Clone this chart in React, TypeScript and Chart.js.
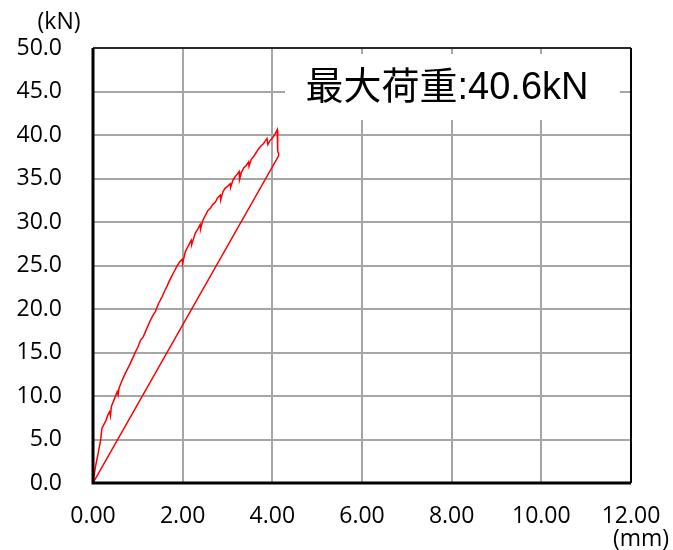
import React, { useEffect, useRef } from "react";
import { Chart, registerables } from "chart.js";

Chart.register(...registerables);

// Loading branch (displacement mm, load kN)
const loadX = [
  0, 0.056, 0.115, 0.17, 0.2, 0.25, 0.29, 0.33, 0.37, 0.39, 0.41, 0.48, 0.54, 0.56, 0.58,
  0.65, 0.72, 0.76, 0.8, 0.88, 0.95, 1.0, 1.06, 1.12, 1.17, 1.22, 1.28, 1.34, 1.39, 1.46,
  1.54, 1.6, 1.65, 1.7, 1.76, 1.82, 1.87, 1.93, 1.99, 2.0, 2.06, 2.12, 2.19, 2.2, 2.28,
  2.34, 2.39, 2.4, 2.45, 2.51, 2.56, 2.62, 2.67, 2.73, 2.78, 2.84, 2.85, 2.9, 2.95, 3.0,
  3.06, 3.07, 3.12, 3.17, 3.22, 3.26, 3.27, 3.31, 3.36, 3.42, 3.47, 3.48, 3.53, 3.58,
  3.63, 3.69, 3.74, 3.8, 3.84, 3.88, 3.9, 3.94, 3.99, 4.02, 4.06, 4.11, 4.12, 4.14,
];
const loadY = [
  0, 1.9, 3.4, 4.9, 6.3, 6.8, 7.2, 7.8, 8.2, 7.7, 8.8, 9.7, 10.5, 10.1, 10.9,
  11.8, 12.6, 13.0, 13.4, 14.3, 15.1, 15.6, 16.4, 16.8, 17.4, 18.0, 18.7, 19.3, 19.7, 20.6,
  21.4, 22.1, 22.6, 23.2, 23.8, 24.4, 24.9, 25.4, 25.7, 25.3, 26.6, 27.2, 27.9, 27.4, 28.7,
  29.2, 29.7, 29.2, 30.2, 30.8, 31.3, 31.6, 32.0, 32.3, 32.8, 33.1, 32.6, 33.5, 33.9, 34.1,
  34.4, 34.0, 34.8, 35.2, 35.5, 35.8, 34.9, 35.7, 36.2, 36.5, 36.9, 36.4, 37.2, 37.5,
  37.9, 38.4, 38.7, 39.0, 39.3, 39.6, 38.9, 39.3, 39.6, 39.8, 40.1, 40.6, 38.1, 37.9,
];
// Unloading branch
const unloadX = [4.14, 0];
const unloadY = [37.6, 0];

const xTicksStep = 2;
const yTicksStep = 5;
const xMax = 12;
const yMax = 50;
const maxLoadLabel = "最大荷重:40.6kN";
const yUnit = "(kN)";
const xUnit = "(mm)";

const TICK_FONT = '"Open Sans", "Noto Sans", sans-serif';
const BOX_FONT = '"Liberation Sans", "Noto Sans CJK JP", sans-serif';

export default function App() {
  const ref = useRef<HTMLCanvasElement | null>(null);

  useEffect(() => {
    if (!ref.current) return;
    const points = [
      ...loadX.map((x, i) => ({ x, y: loadY[i] })),
      ...unloadX.map((x, i) => ({ x, y: unloadY[i] })),
    ];

    const overlay = {
      id: "overlay",
      afterDraw(chart: any) {
        const ctx = chart.ctx as CanvasRenderingContext2D;
        const a = chart.chartArea;
        ctx.save();
        // frame
        ctx.strokeStyle = "#000";
        ctx.lineWidth = 1.5;
        ctx.beginPath();
        ctx.moveTo(a.left, a.top);
        ctx.lineTo(a.right, a.top);
        ctx.stroke();
        ctx.lineWidth = 2;
        ctx.beginPath();
        ctx.moveTo(a.right, a.top);
        ctx.lineTo(a.right, a.bottom);
        ctx.stroke();
        ctx.lineWidth = 3;
        ctx.beginPath();
        ctx.moveTo(a.left, a.top);
        ctx.lineTo(a.left, a.bottom);
        ctx.lineTo(a.right, a.bottom);
        ctx.stroke();

        // white box with max load text
        ctx.fillStyle = "#fff";
        ctx.fillRect(285, 54, 335, 66);
        ctx.fillStyle = "#000";
        ctx.font = `38px ${BOX_FONT}`;
        ctx.textAlign = "center";
        ctx.textBaseline = "middle";
        ctx.fillText(maxLoadLabel, 447, 89);

        // unit labels
        ctx.font = `23px ${TICK_FONT}`;
        ctx.fillText(yUnit, 59, 22);
        ctx.fillText(xUnit, 641, 539);
        ctx.restore();
      },
    };

    const chart = new Chart(ref.current, {
      type: "scatter",
      data: {
        datasets: [
          {
            data: points,
            showLine: true,
            borderColor: "#ff0000",
            borderWidth: 1.5,
            pointRadius: 0,
            tension: 0,
            fill: false,
          },
        ],
      },
      options: {
        responsive: false,
        animation: false,
        layout: { padding: { top: 48, right: 42, left: 0, bottom: 0 } },
        plugins: {
          legend: { display: false },
          tooltip: { enabled: false },
        },
        scales: {
          x: {
            type: "linear",
            min: 0,
            max: xMax,
            border: { display: false },
            grid: { color: "#a6a6a6", lineWidth: 2, drawTicks: false },
            ticks: {
              stepSize: xTicksStep,
              padding: 20,
              color: "#000",
              font: { family: TICK_FONT, size: 23 },
              callback: (v: any) => Number(v).toFixed(2),
              maxRotation: 0,
              autoSkip: false,
            },
            afterFit: (s: any) => {
              s.height = 67;
              s.paddingLeft = 0;
              s.paddingRight = 0;
            },
          },
          y: {
            type: "linear",
            min: 0,
            max: yMax,
            border: { display: false },
            grid: { color: "#a6a6a6", lineWidth: 2, drawTicks: false },
            ticks: {
              stepSize: yTicksStep,
              padding: 31,
              color: "#000",
              font: { family: TICK_FONT, size: 23 },
              callback: (v: any) => Number(v).toFixed(1),
              autoSkip: false,
            },
            afterFit: (s: any) => {
              s.width = 93;
              s.paddingTop = 0;
              s.paddingBottom = 0;
            },
          },
        },
      },
      plugins: [overlay],
    });
    return () => chart.destroy();
  }, []);

  return (
    <div style={{ position: "absolute", left: 0, top: 0, width: 673, height: 550, background: "#fff" }}>
      <canvas ref={ref} width={673} height={550} style={{ width: 673, height: 550, display: "block" }} />
    </div>
  );
}
